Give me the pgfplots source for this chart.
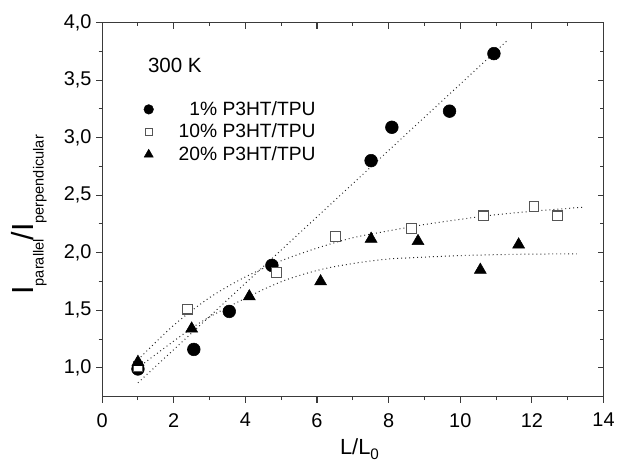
\documentclass[border=0pt]{standalone}
\usepackage{fontspec}
\setmainfont{Liberation Sans}
\usepackage{pgfplots}
\pgfplotsset{compat=1.18}

\definecolor{frame}{HTML}{3A3A3A}
\definecolor{sqedge}{HTML}{555555}

\pgfplotstableread{
x y
1.00 0.99
2.56 1.16
3.55 1.49
4.74 1.89
7.51 2.80
8.09 3.09
9.70 3.23
10.94 3.73
}\oneperc

\pgfplotstableread{
x y
1.00 1.01
2.39 1.51
4.87 1.83
6.51 2.14
8.63 2.21
10.64 2.32
12.06 2.40
12.71 2.32
}\tenperc

\pgfplotstableread{
x y
1.00 1.05
2.50 1.34
4.11 1.62
6.10 1.75
7.51 2.12
8.82 2.10
10.56 1.85
11.63 2.07
}\twentyperc

\begin{document}
\begin{tikzpicture}
\pgfplotsset{
  base/.style={
    scale only axis, width=378pt, height=282pt,
    xmin=0, xmax=14, ymin=0.75, ymax=4.0,
    xtick={0,2,...,14}, minor xtick={1,3,...,13},
    ytick={1.0,1.5,...,4.0}, minor ytick={1.25,1.75,...,3.75},
    axis line style={frame, line width=0.9pt},
    major tick style={frame, line width=0.8pt},
    minor tick style={frame, line width=0.8pt},
    major tick length=4.5pt, minor tick length=2.6pt,
  },
}
\begin{axis}[base, name=main,
  tick align=outside, xtick pos=bottom, ytick pos=left,
  /pgf/number format/assume math mode=true,
  ticklabel style={font=\fontsize{15}{17}\selectfont},
  xticklabel style={yshift=-4.5pt},
  yticklabel style={/pgf/number format/.cd, fixed, fixed zerofill, precision=1, use comma},
  xlabel={L/L\raisebox{-3.5pt}{\fontsize{11.5}{12}\selectfont 0}},
  xlabel style={font=\fontsize{16.5}{18}\selectfont, yshift=-2pt, xshift=5pt},
  ylabel={I\raisebox{-7.5pt}{\fontsize{11}{12}\selectfont parallel}\kern-1pt/I\raisebox{-7.5pt}{\fontsize{11}{12}\selectfont perpendicular}},
  ylabel style={font=\fontsize{23}{26}\selectfont, yshift=6pt, xshift=-4pt},
  legend style={at={(axis cs:1.16,3.34)}, anchor=north west, draw=none, fill=none,
    inner sep=0pt, font=\fontsize{14.5}{17.5}\selectfont, row sep=1pt,
    /tikz/every odd column/.append style={column sep=17pt}},
  legend image post style={scale=0.75},
  legend cell align=right,
]
\addplot[only marks, mark=*, mark size=4.8pt, black] table {\oneperc};
\addlegendentry{1\% P3HT/TPU}
\addplot[only marks, mark=square*, mark size=3.7pt, draw=sqedge, fill=white, line width=0.8pt] table {\tenperc};
\addlegendentry{10\% P3HT/TPU}
\addplot[only marks, mark=triangle*, mark size=5.2pt, black] table {\twentyperc};
\addlegendentry{20\% P3HT/TPU}

% fitted curves
\addplot[black!85, line width=0.75pt, dash pattern=on 0.7pt off 2.3pt, forget plot] coordinates {(1.0,0.87) (11.3,3.84)};
\addplot[black!85, line width=0.75pt, dash pattern=on 0.7pt off 2.3pt, smooth, tension=0.5, forget plot] coordinates {
(1.0,1.07) (2,1.37) (3,1.61) (4,1.79) (5,1.93) (6,2.04) (7,2.13) (8,2.19) (9,2.245) (10,2.29) (11,2.33) (12,2.36) (13,2.385) (13.4,2.395)};
\addplot[black!85, line width=0.75pt, dash pattern=on 0.7pt off 2.3pt, smooth, tension=0.5, forget plot] coordinates {
(1.0,1.0) (2.69,1.384) (4.1,1.62) (5.1,1.76) (6.12,1.855) (7.14,1.913) (8,1.945) (9.08,1.963) (10,1.975) (11,1.983) (12,1.988) (13.25,1.99)};

\node[anchor=base west, font=\fontsize{15.5}{18}\selectfont] at (axis cs:1.15,3.57) {300 K};
\end{axis}
\begin{axis}[base, tick align=inside, xtick pos=top, ytick pos=right,
  xticklabels={}, yticklabels={}]
\end{axis}
\path (main.south west) ++(-77pt,-45pt) rectangle ([xshift=9pt,yshift=17pt]main.north east);
\end{tikzpicture}
\end{document}
